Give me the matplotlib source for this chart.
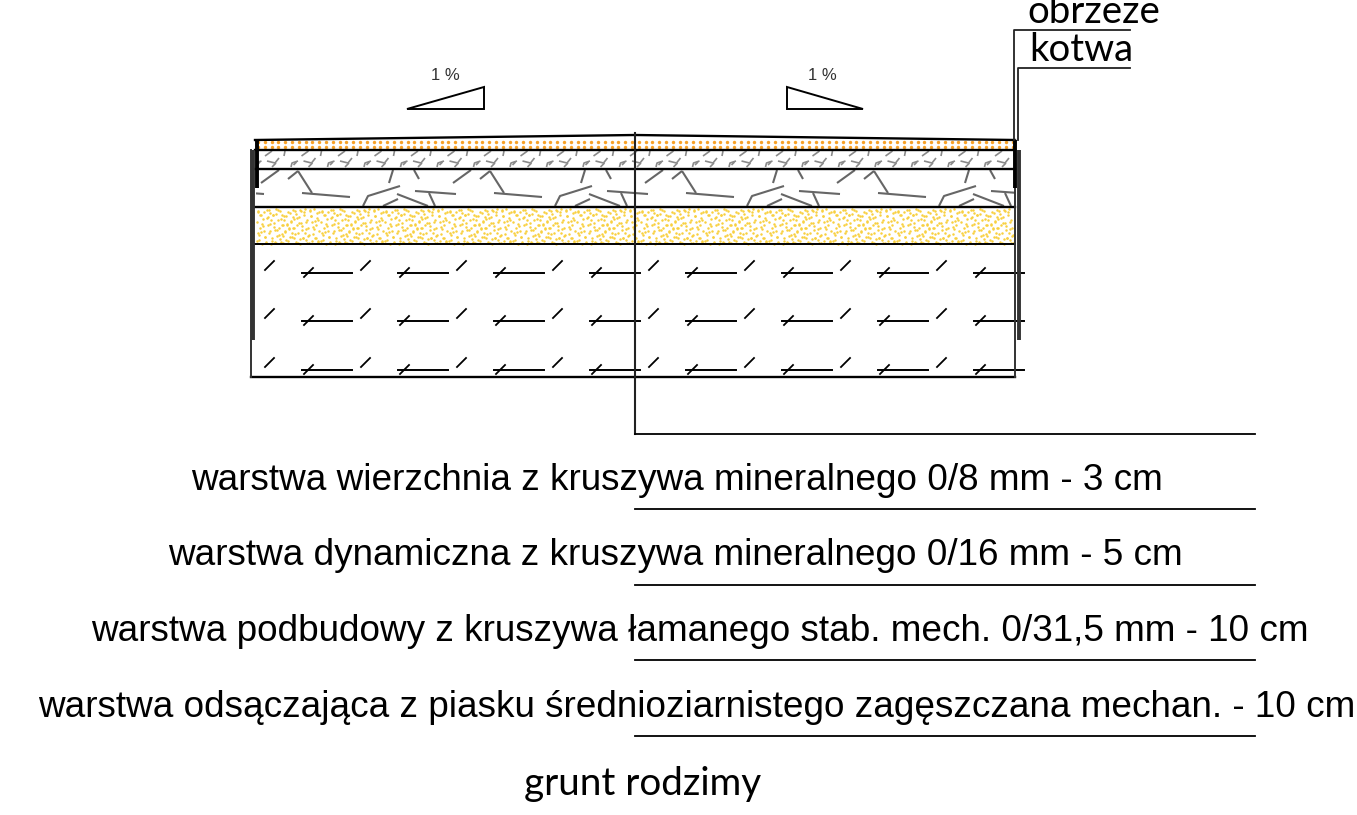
import matplotlib
matplotlib.use("Agg")
import matplotlib.pyplot as plt
from matplotlib.patches import Rectangle
import numpy as np

W, H = 1357, 815

# layer boundaries, pixel rows
layer_y = [150, 169, 207, 244, 377]
top_x = [255, 635, 1015]
top_y = [140, 135, 140]
left_x, mid_x, right_x = 251, 635, 1015
leader_end = 1255
leader_y = [434, 509, 585, 660, 736]

labels = [
    "warstwa wierzchnia z kruszywa mineralnego 0/8 mm - 3 cm",
    "warstwa dynamiczna z kruszywa mineralnego 0/16 mm - 5 cm",
    "warstwa podbudowy z kruszywa łamanego stab. mech. 0/31,5 mm - 10 cm",
    "warstwa odsączająca z piasku średnioziarnistego zagęszczana mechan. - 10 cm",
]
label_x = [191, 168, 91, 38]
label_y = [490, 565, 641, 717]

slope_left = [(407, 109), (484, 109), (484, 87)]
slope_right = [(787, 87), (787, 109), (863, 109)]

# texture tiles, one repeat of each hatch
coarse_tile = [
    [(261, 183), (279, 170)], [(288, 179), (298, 171)], [(298, 171), (312, 193)],
    [(302, 193), (350, 197)], [(363, 206), (368, 196), (400, 186)],
    [(397, 194), (428, 206)], [(415, 191), (456, 194)], [(429, 193), (435, 206)],
    [(383, 206), (398, 199)], [(393, 170), (389, 183)], [(414, 170), (419, 179)],
]
fine_tile = [
    [(265, 156), (272, 151)], [(285, 151), (284, 156)], [(257, 165), (260, 162)],
    [(267, 161), (275, 163)], [(275, 163), (279, 158)], [(276, 163), (272, 167)],
    [(291, 167), (292, 163), (298, 161)],
]
ground_dash = [302, 352]
ground_rows = [273, 321, 370]
sand_tile = [
    (2, 4), (7, 11), (11, 2), (4, 20), (9, 29), (1, 33), (14, 16), (17, 7), (13, 25), (19, 34),
    (22, 12), (24, 3), (21, 22), (27, 28), (26, 17), (30, 8), (32, 33), (33, 21), (35, 13), (37, 2),
    (39, 26), (41, 17), (43, 9), (44, 31), (46, 22), (48, 4), (50, 14), (51, 35), (53, 27), (55, 8),
    (57, 19), (58, 1), (60, 30), (62, 12), (63, 23), (6, 16), (10, 35), (16, 30), (20, 1), (25, 34),
    (29, 23), (34, 5), (38, 11), (42, 35), (47, 30), (52, 20), (56, 33), (61, 5), (3, 27), (12, 9),
    (18, 19), (23, 27), (28, 12), (31, 17), (36, 29), (40, 6), (45, 15), (49, 25), (54, 3), (59, 13),
    (5, 7), (15, 36), (8, 23), (37, 20), (44, 2), (50, 32), (26, 7), (62, 34),
]

fig = plt.figure(figsize=(W / 100, H / 100), dpi=100)
ax = fig.add_axes([0, 0, 1, 1])
ax.set_xlim(0, W)
ax.set_ylim(H, 0)
ax.axis("off")

clip_x0, clip_x1 = 256, 1015


def body_clip(y0, y1, x1=clip_x1):
    return Rectangle((clip_x0, y0), x1 - clip_x0, y1 - y0, transform=ax.transData)


def repeat_tile(tile, step, y0, y1, color, lw):
    shifts = np.arange(-step, clip_x1 - 256 + step, step)
    for dx in shifts:
        for seg in tile:
            xs = [p[0] + dx for p in seg]
            ys = [p[1] for p in seg]
            line, = ax.plot(xs, ys, color=color, lw=lw, solid_capstyle="butt")
            line.set_clip_path(body_clip(y0, y1))


# top layer, orange dots
for y in [142, 147]:
    xs = np.arange(258, 1013, 6.8)
    ax.scatter(xs, np.full(len(xs), y), s=6, color="#f7a128", marker="o", linewidths=0)

repeat_tile(fine_tile, 36.5, 151, 168, "#8a8a8a", 1.2)
repeat_tile(coarse_tile, 192, 170, 206, "#666666", 1.5)

# sand, two mirrored passes of the tile
sand = np.array(sand_tile, dtype=float)
for dx in np.arange(256, 1015, 64):
    for px, py in [(sand[:, 0], sand[:, 1]), (64 - sand[:, 0], 37 - sand[:, 1])]:
        keep = dx + px < 1014
        ax.scatter(dx + px[keep], 207.5 + py[keep], s=3.2, color="#f8d040", linewidths=0)

# native soil marks
for row in ground_rows:
    for n in range(8):
        dx = 96 * n
        ax.plot([265 + dx, 274 + dx], [row - 3, row - 12], color="black", lw=1.3)
        ax.plot([ground_dash[0] + dx, ground_dash[1] + dx], [row, row], color="black", lw=1.4)
        ax.plot([304 + dx, 313 + dx], [row + 4, row - 5], color="black", lw=1.3)

# layer lines
ax.plot(top_x, top_y, color="black", lw=1.7)
for y in layer_y[:4]:
    ax.plot([255, right_x], [y, y], color="black", lw=1.7 if y != layer_y[3] else 1.4)
ax.plot([left_x, right_x], [layer_y[4], layer_y[4]], color="black", lw=1.7)
ax.plot([left_x, left_x], [150, 377], color="#333333", lw=1.4)
ax.plot([right_x, right_x], [140, 377], color="#333333", lw=1.4)

# edging and anchor
ax.plot([256.5, 256.5], [139, 188], color="black", lw=2.8, solid_capstyle="butt")
ax.plot([252.5, 252.5], [150, 340], color="#333333", lw=2.8, solid_capstyle="butt")
ax.plot([1014.5, 1014.5], [140, 188], color="black", lw=2.8, solid_capstyle="butt")
ax.plot([1018.5, 1018.5], [150, 340], color="#333333", lw=2.8, solid_capstyle="butt")

# leaders
ax.plot([mid_x, mid_x], [133, leader_y[0]], color="#222222", lw=1.5)
for y in leader_y:
    ax.plot([mid_x, leader_end], [y, y], color="black", lw=1.3)
ax.plot([1014, 1014, 1130], [140, 30, 30], color="#222222", lw=1.3)
ax.plot([1017.5, 1017.5, 1130], [140, 68, 68], color="#222222", lw=1.3)

# slope signs
for pts in [slope_left, slope_right]:
    ax.add_patch(plt.Polygon(pts, closed=True, fill=False, edgecolor="black", lw=1.4))
ax.text(445, 76, "1 %", ha="center", va="center", family="Liberation Sans", fontsize=12, color="#333333")
ax.text(822, 76, "1 %", ha="center", va="center", family="Liberation Sans", fontsize=12, color="#333333")

for txt, x, y in zip(labels, label_x, label_y):
    ax.text(x, y, txt, ha="left", va="baseline", family="Liberation Sans", fontsize=26.6, color="black")
ax.text(524, 795, "grunt rodzimy", ha="left", va="baseline", family="Lato", fontsize=27.8, color="black")
ax.text(1027, 23, "obrzeze", ha="left", va="baseline", family="Lato", fontsize=27.6, color="black")
ax.text(1029, 61, "kotwa", ha="left", va="baseline", family="Lato", fontsize=27.5, color="black")

fig.savefig("out.png", dpi=100)
